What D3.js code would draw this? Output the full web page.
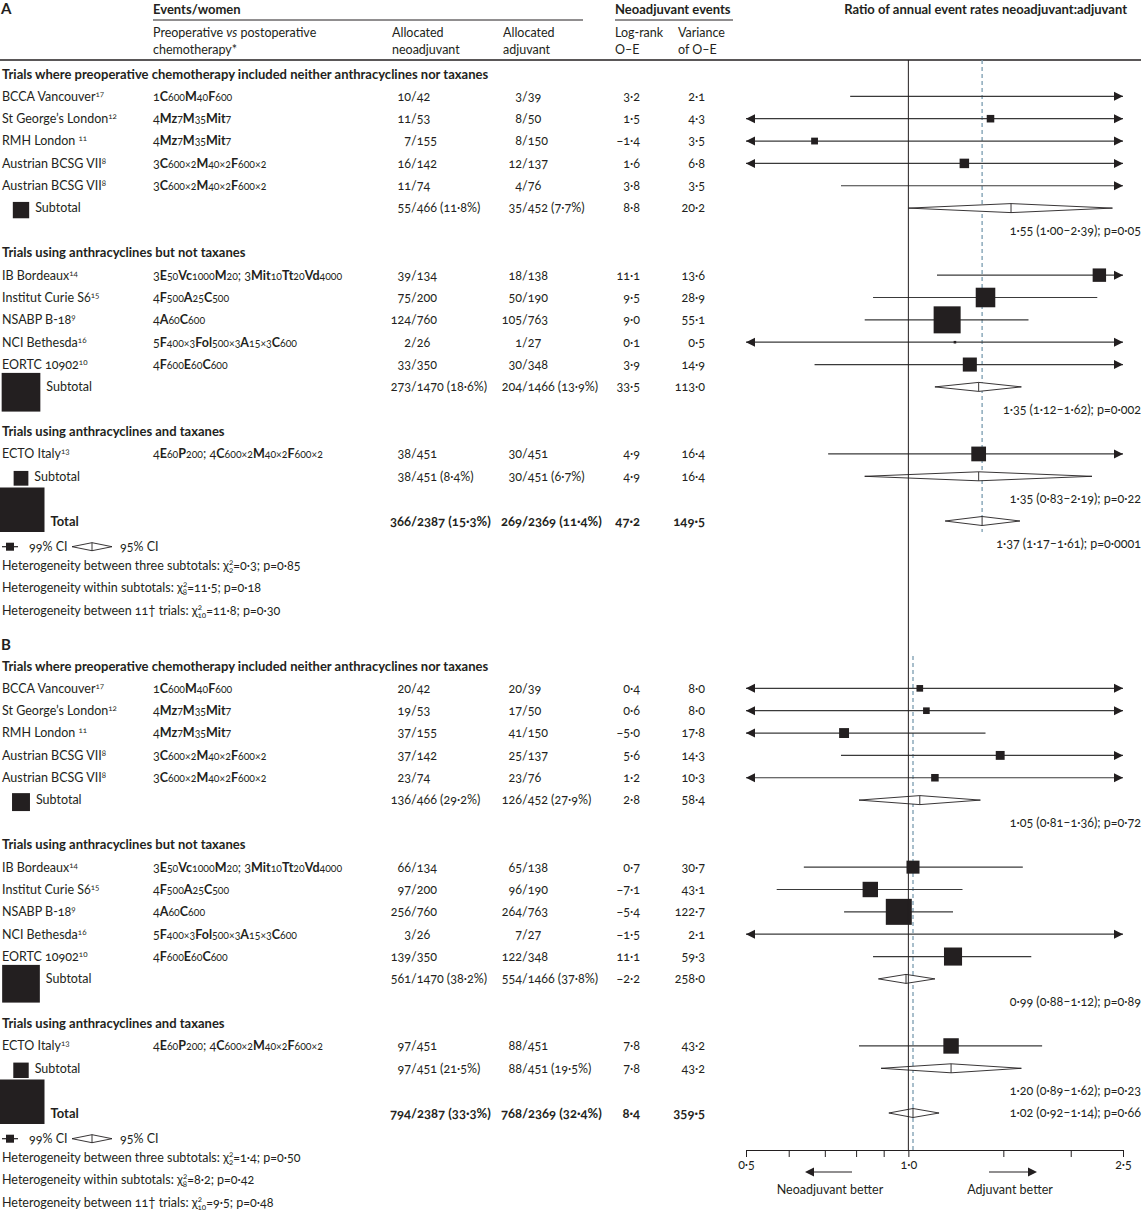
<!DOCTYPE html>
<meta charset="utf-8">
<style>
body { margin: 0; background: #fff; }
svg { font-family: Lato, "Noto Sans", sans-serif; font-size: 12.5px; font-variant-numeric: oldstyle-nums; }
text { fill: #231f20; }
.bold { font-weight: bold; font-size: 13px; }
</style>
<svg width="1143" height="1211"></svg>
<script src="https://d3js.org/d3.v7.min.js"></script>
<script>

var groupTitles = [
  "Trials where preoperative chemotherapy included neither anthracyclines nor taxanes",
  "Trials using anthracyclines but not taxanes",
  "Trials using anthracyclines and taxanes"
];
var trialNames = ["BCCA Vancouver", "St George\u2019s London", "RMH London ", "Austrian BCSG VII", "Austrian BCSG VII",
  "IB Bordeaux", "Institut Curie S6", "NSABP B-18", "NCI Bethesda", "EORTC 10902", "ECTO Italy"];
var trialRefs = ["17", "12", "11", "8", "8", "14", "15", "9", "16", "10", "13"];
var trialGroup = [0, 0, 0, 0, 0, 1, 1, 1, 1, 1, 2];
var regimens = ["1C600M40F600", "4Mz7M35Mit7", "4Mz7M35Mit7", "3C600×2M40×2F600×2", "3C600×2M40×2F600×2",
  "3E50Vc1000M20; 3Mit10Tt20Vd4000", "4F500A25C500", "4A60C600", "5F400×3Fol500×3A15×3C600", "4F600E60C600",
  "4E60P200; 4C600×2M40×2F600×2"];

// panel A
var neoA = ["10/42", "11/53", "7/155", "16/142", "11/74", "39/134", "75/200", "124/760", "2/26", "33/350", "38/451"];
var adjA = ["3/39", "8/50", "8/150", "12/137", "4/76", "18/138", "50/190", "105/763", "1/27", "30/348", "30/451"];
var oeA = [3.2, 1.5, -1.4, 1.6, 3.8, 11.1, 9.5, 9.0, 0.1, 3.9, 4.9];
var varA = [2.1, 4.3, 3.5, 6.8, 3.5, 13.6, 28.9, 55.1, 0.5, 14.9, 16.4];
var ratioA = [4.59, 1.42, 0.67, 1.27, 2.96, 2.26, 1.39, 1.18, 1.22, 1.30, 1.35];
var loA = [0.78, 0.41, 0.17, 0.47, 0.75, 1.13, 0.86, 0.83, 0.03, 0.67, 0.71];
var hiA = [27, 4.9, 2.66, 3.4, 11.7, 4.54, 2.24, 1.67, 47, 2.53, 2.55];
var subNeoA = ["55/466 (11·8%)", "273/1470 (18·6%)", "38/451 (8·4%)"];
var subAdjA = ["35/452 (7·7%)", "204/1466 (13·9%)", "30/451 (6·7%)"];
var subOeA = [8.8, 33.5, 4.9];
var subVarA = [20.2, 113.0, 16.4];
var subRatioA = [1.55, 1.35, 1.35];
var subLoA = [1.00, 1.12, 0.83];
var subHiA = [2.39, 1.62, 2.19];
var subPA = ["0·05", "0·002", "0·22"];
var totalA = {neo: "366/2387 (15·3%)", adj: "269/2369 (11·4%)", oe: 47.2, vr: 149.5, ratio: 1.37, lo: 1.17, hi: 1.61, p: "0·0001"};
var hetChiA = [0.3, 11.5, 11.8];
var hetPA = ["0·85", "0·18", "0·30"];

// panel B
var neoB = ["20/42", "19/53", "37/155", "37/142", "23/74", "66/134", "97/200", "256/760", "3/26", "139/350", "97/451"];
var adjB = ["20/39", "17/50", "41/150", "25/137", "23/76", "65/138", "96/190", "264/763", "7/27", "122/348", "88/451"];
var oeB = [0.4, 0.6, -5.0, 5.6, 1.2, 0.7, -7.1, -5.4, -1.5, 11.1, 7.8];
var varB = [8.0, 8.0, 17.8, 14.3, 10.3, 30.7, 43.1, 122.7, 2.1, 59.3, 43.2];
var ratioB = [1.05, 1.08, 0.76, 1.48, 1.12, 1.02, 0.85, 0.96, 0.49, 1.21, 1.20];
var loB = [0.42, 0.43, 0.41, 0.75, 0.50, 0.64, 0.57, 0.76, 0.08, 0.86, 0.81];
var hiB = [2.61, 2.68, 1.39, 2.92, 2.51, 1.63, 1.26, 1.21, 2.9, 1.69, 1.77];
var subNeoB = ["136/466 (29·2%)", "561/1470 (38·2%)", "97/451 (21·5%)"];
var subAdjB = ["126/452 (27·9%)", "554/1466 (37·8%)", "88/451 (19·5%)"];
var subOeB = [2.8, -2.2, 7.8];
var subVarB = [58.4, 258.0, 43.2];
var subRatioB = [1.05, 0.99, 1.20];
var subLoB = [0.81, 0.88, 0.89];
var subHiB = [1.36, 1.12, 1.62];
var subPB = ["0·72", "0·89", "0·23"];
var totalB = {neo: "794/2387 (33·3%)", adj: "768/2369 (32·4%)", oe: 8.4, vr: 359.5, ratio: 1.02, lo: 0.92, hi: 1.14, p: "0·66"};
var hetChiB = [1.4, 8.2, 9.5];
var hetPB = ["0·50", "0·42", "0·48"];

var hetLabels = ["Heterogeneity between three subtotals", "Heterogeneity within subtotals", "Heterogeneity between 11\u2020 trials"];
var hetDf = ["2", "8", "10"];
var axisTicks = [0.5, 0.6, 0.7, 0.8, 0.9, 1.0, 1.5, 2.0, 2.5];
var axisLabelled = [0.5, 1.0, 2.5];

var ink = "#231f20";
var svg = d3.select("svg");
var x = d3.scaleLog().domain([0.5, 2.5]).range([746, 1123]);
var rowStep = 22.35;

function f1(v) { return (v < 0 ? "\u2212" : "") + d3.format(".1f")(Math.abs(v)).replace(".", "·"); }
function f2(v) { return d3.format(".2f")(v).replace(".", "·"); }

function label(g, xx, yy, s, cls, anchor) {
  return g.append("text").attr("x", xx).attr("y", yy).attr("dy", "0.35em")
    .attr("class", cls || null).attr("text-anchor", anchor || "start").text(s);
}

// numbers split on the slash so the column lines up
function slashed(g, xx, yy, s, cls) {
  var i = s.indexOf("/");
  label(g, xx, yy, s.slice(0, i), cls, "end");
  label(g, xx, yy, s.slice(i), cls, "start");
}

function regimenParts(s) {
  var parts = [], re = /(^|; )(\d+)|([A-Z][a-z]*)|([\d×]+)/g, m;
  while ((m = re.exec(s))) {
    if (m[2]) { parts.push({t: m[1] + m[2], k: "n"}); }
    else if (m[3]) parts.push({t: m[3], k: "b"});
    else parts.push({t: m[4], k: "s"});
  }
  return parts;
}

function arrow(g, tip, yy, dir) {
  g.append("path")
    .attr("d", "M" + tip + "," + yy + "L" + (tip - dir * 9) + "," + (yy - 4.5) + "L" + (tip - dir * 9) + "," + (yy + 4.5) + "Z")
    .attr("fill", ink);
}

function ciMark(g, yy, est, lo, hi, side) {
  var x1 = lo <= 0.5 ? x(0.5) : x(lo),
      x2 = hi >= 2.5 ? x(2.5) : x(hi);
  g.append("line").attr("x1", x1).attr("x2", x2).attr("y1", yy).attr("y2", yy)
    .attr("stroke", "#3a3a3a").attr("stroke-width", 1.2);
  if (lo <= 0.5) arrow(g, x(0.5), yy, -1);
  if (hi >= 2.5) arrow(g, x(2.5), yy, 1);
  if (est >= 0.5 && est <= 2.5)
    g.append("rect").attr("x", x(est) - side / 2).attr("y", yy - side / 2)
      .attr("width", side).attr("height", side).attr("fill", ink);
}

function diamond(g, yy, est, lo, hi) {
  g.append("path")
    .attr("d", "M" + x(lo) + "," + yy + "L" + x(est) + "," + (yy - 4.5) + "L" + x(hi) + "," + yy + "L" + x(est) + "," + (yy + 4.5) + "Z")
    .attr("fill", "#fff").attr("stroke", ink).attr("stroke-width", 0.9);
  g.append("line").attr("x1", x(est)).attr("x2", x(est)).attr("y1", yy - 4.5).attr("y2", yy + 4.5)
    .attr("stroke", ink).attr("stroke-width", 0.9);
}

function drawPanel(p) {
  var g = svg.append("g");
  var y = function(i) { return p.top + i * rowStep; };
  var size = d3.scaleSqrt().domain([0, p.total.vr]).range([0, 44.5]);

  // reference line at the overall ratio
  g.append("line").attr("x1", x(p.total.ratio)).attr("x2", x(p.total.ratio))
    .attr("y1", p.dashTop).attr("y2", p.dashBottom)
    .attr("stroke", "#7a9cb0").attr("stroke-width", 1.3).attr("stroke-dasharray", "4,3");

  label(g, 1, p.labelY, p.label, "bold").style("font-size", "15px");

  function numbers(yy, neo, adj, oe, vr, cls) {
    slashed(g, 411, yy, neo, cls);
    slashed(g, 522, yy, adj, cls);
    label(g, 640, yy, f1(oe), cls, "end");
    label(g, 705, yy, f1(vr), cls, "end");
  }

  function squareKey(yy, vr, word, cls, top) {
    var s = size(vr), x0 = Math.max(0, 21 - s / 2);
    g.append("rect").attr("x", x0).attr("y", top(s)).attr("width", s).attr("height", s).attr("fill", ink);
    label(g, x0 + s + 6, yy, word, cls);
  }

  var row = 0;
  groupTitles.forEach(function(title, gi) {
    label(g, 2, y(row), title, "bold");
    row++;
    trialNames.forEach(function(name, ti) {
      if (trialGroup[ti] !== gi) return;
      var yy = y(row);
      var t = label(g, 2, yy, name);
      t.append("tspan").attr("font-size", 8).attr("dy", -4).text(trialRefs[ti]);
      var r = g.append("text").attr("x", 153).attr("y", yy).attr("dy", "0.35em");
      regimenParts(regimens[ti]).forEach(function(pt) {
        var ts = r.append("tspan").text(pt.t);
        if (pt.k === "b") ts.attr("font-weight", "bold");
        if (pt.k === "s") ts.attr("font-size", 10.5);
      });
      numbers(yy, p.neo[ti], p.adj[ti], p.oe[ti], p.vr[ti]);
      ciMark(g, yy, p.ratio[ti], p.lo[ti], p.hi[ti], size(p.vr[ti]));
      row++;
    });
    var ys = y(row);
    squareKey(ys, p.subVr[gi], "Subtotal", null, function(s) { return Math.max(ys - s / 2 + 2, ys - 14); });
    numbers(ys, p.subNeo[gi], p.subAdj[gi], p.subOe[gi], p.subVr[gi]);
    diamond(g, ys, p.subRatio[gi], p.subLo[gi], p.subHi[gi]);
    label(g, 1141, y(row + 1), f2(p.subRatio[gi]) + " (" + f2(p.subLo[gi]) + "–" + f2(p.subHi[gi]) + "); p=" + p.subP[gi], null, "end");
    row += 2;
  });

  var yt = y(row);
  squareKey(yt, p.total.vr, "Total", "bold", function(s) { return yt + 11 - s; });
  numbers(yt, p.total.neo, p.total.adj, p.total.oe, p.total.vr, "bold");
  diamond(g, yt, p.total.ratio, p.total.lo, p.total.hi);
  label(g, 1141, y(row + p.totalTextRow), f2(p.total.ratio) + " (" + f2(p.total.lo) + "–" + f2(p.total.hi) + "); p=" + p.total.p, null, "end");

  // key
  var yk = y(row + 1.15);
  g.append("line").attr("x1", 2).attr("x2", 18).attr("y1", yk).attr("y2", yk).attr("stroke", ink).attr("stroke-width", 1.2);
  g.append("rect").attr("x", 6).attr("y", yk - 4).attr("width", 8).attr("height", 8).attr("fill", ink);
  label(g, 29, yk, "99% CI");
  g.append("path").attr("d", "M72," + yk + "L92," + (yk - 4) + "L112," + yk + "L92," + (yk + 4) + "Z")
    .attr("fill", "#fff").attr("stroke", ink).attr("stroke-width", 0.9);
  g.append("line").attr("x1", 92).attr("x2", 92).attr("y1", yk - 4).attr("y2", yk + 4).attr("stroke", ink).attr("stroke-width", 0.9);
  label(g, 120, yk, "95% CI");

  hetLabels.forEach(function(h, i) {
    var t = label(g, 2, y(row + 2 + i), h + ": \u03c7");
    t.append("tspan").attr("font-size", 8).attr("dy", -5).text("2");
    t.append("tspan").attr("font-size", 8).attr("dx", -4.5).attr("dy", 8).text(hetDf[i]);
    t.append("tspan").attr("dy", -3).text("=" + f1(p.hetChi[i]) + "; p=" + p.hetP[i]);
  });
}

// header
var head = svg.append("g");
label(head, 153, 9, "Events/women", "bold");
label(head, 615, 9, "Neoadjuvant events", "bold");
label(head, 1127, 9, "Ratio of annual event rates neoadjuvant:adjuvant", "bold", "end");
head.append("line").attr("x1", 153).attr("x2", 583).attr("y1", 20).attr("y2", 20).attr("stroke", ink);
head.append("line").attr("x1", 615).attr("x2", 733).attr("y1", 20).attr("y2", 20).attr("stroke", ink);
var pre = label(head, 153, 33, "Preoperative ");
pre.append("tspan").attr("font-style", "italic").text("vs");
pre.append("tspan").text(" postoperative");
label(head, 153, 50, "chemotherapy*");
label(head, 392, 33, "Allocated");
label(head, 392, 50, "neoadjuvant");
label(head, 503, 33, "Allocated");
label(head, 503, 50, "adjuvant");
label(head, 615, 33, "Log-rank");
label(head, 615, 50, "O\u2013E");
label(head, 678, 33, "Variance");
label(head, 678, 50, "of O\u2013E");
head.append("line").attr("x1", 0).attr("x2", 1141).attr("y1", 60).attr("y2", 60).attr("stroke", ink).attr("stroke-width", 1.5);

drawPanel({label: "A", labelY: 9, top: 74, dashTop: 60, dashBottom: 532, totalTextRow: 1,
  neo: neoA, adj: adjA, oe: oeA, vr: varA, ratio: ratioA, lo: loA, hi: hiA,
  subNeo: subNeoA, subAdj: subAdjA, subOe: subOeA, subVr: subVarA, subRatio: subRatioA, subLo: subLoA, subHi: subHiA, subP: subPA,
  total: totalA, hetChi: hetChiA, hetP: hetPA});

drawPanel({label: "B", labelY: 645, top: 666, dashTop: 656, dashBottom: 1150, totalTextRow: 0,
  neo: neoB, adj: adjB, oe: oeB, vr: varB, ratio: ratioB, lo: loB, hi: hiB,
  subNeo: subNeoB, subAdj: subAdjB, subOe: subOeB, subVr: subVarB, subRatio: subRatioB, subLo: subLoB, subHi: subHiB, subP: subPB,
  total: totalB, hetChi: hetChiB, hetP: hetPB});

// line of no difference
svg.append("line").attr("x1", x(1)).attr("x2", x(1)).attr("y1", 60).attr("y2", 1150).attr("stroke", ink).attr("stroke-width", 1);

// axis
var axis = svg.append("g").attr("transform", "translate(0,1150)")
  .call(d3.axisBottom(x).tickValues(axisTicks).tickSize(7).tickSizeOuter(0)
    .tickFormat(function(d) { return axisLabelled.indexOf(d) >= 0 ? f1(d) : ""; }));
axis.attr("font-family", null).attr("font-size", null);
axis.selectAll("path, line").attr("stroke", ink);
axis.selectAll("text").attr("fill", ink);

var foot = svg.append("g");
foot.append("line").attr("x1", 852).attr("x2", 813).attr("y1", 1172).attr("y2", 1172).attr("stroke", ink).attr("stroke-width", 1.2);
arrow(foot, 805, 1172, -1);
foot.append("line").attr("x1", 989).attr("x2", 1029).attr("y1", 1172).attr("y2", 1172).attr("stroke", ink).attr("stroke-width", 1.2);
arrow(foot, 1037, 1172, 1);
label(foot, 830, 1190, "Neoadjuvant better", null, "middle");
label(foot, 1010, 1190, "Adjuvant better", null, "middle");

</script>
